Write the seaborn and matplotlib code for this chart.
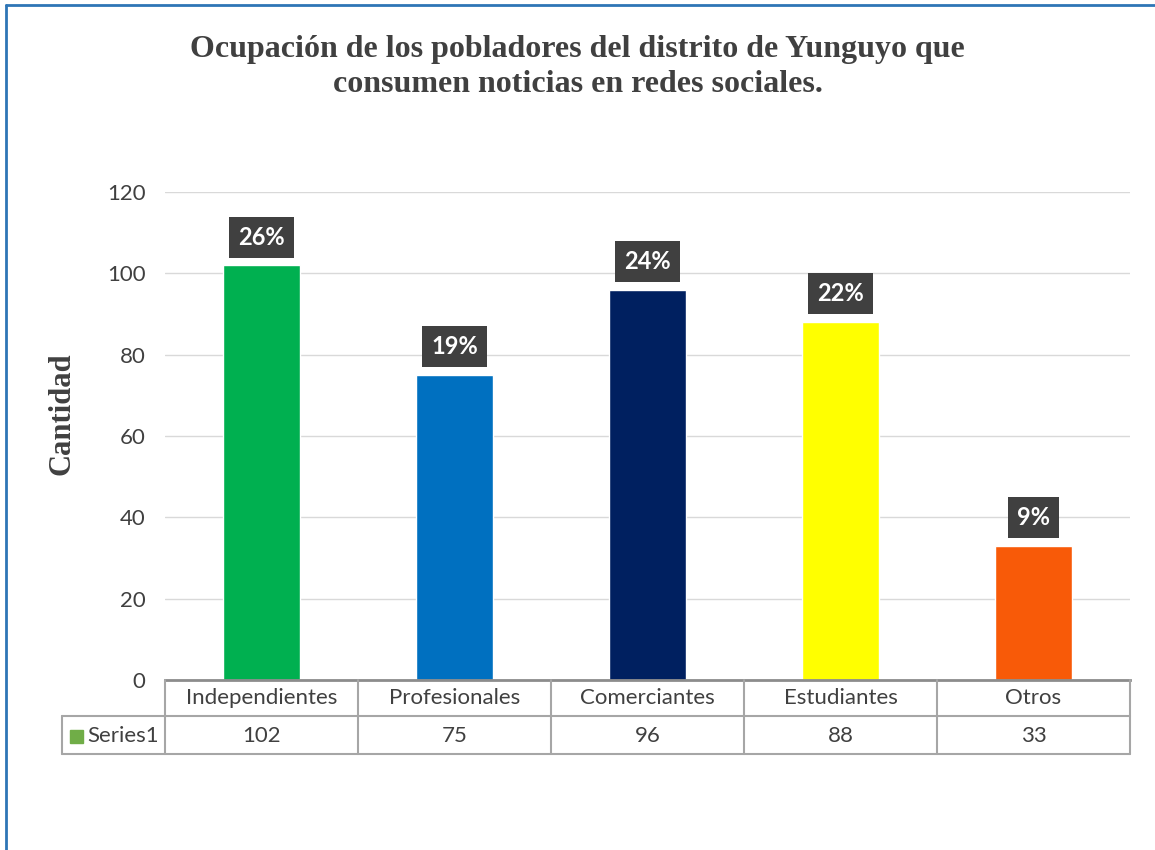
import matplotlib.pyplot as plt
import seaborn as sns
import pandas as pd
from matplotlib.lines import Line2D
from matplotlib.patches import Rectangle

# datos
categorias = ['Independientes', 'Profesionales', 'Comerciantes', 'Estudiantes', 'Otros']
cantidad = [102, 75, 96, 88, 33]
porcentajes = ['26%', '19%', '24%', '22%', '9%']
colores = ['#00B050', '#0070C0', '#002060', '#FFFF00', '#F85A08']
serie = 'Series1'

df = pd.DataFrame({'Ocupacion': categorias, 'Cantidad': cantidad})

sns.set_theme(style='white')
plt.rcParams['font.family'] = ['Lato', 'DejaVu Sans']

W, H = 1155, 850
def fx(x):
    return x / W
def fy(y):
    return 1 - y / H

fig = plt.figure(figsize=(11.55, 8.5), dpi=100)
ax = fig.add_axes([165 / W, 0.2, 965 / W, 488 / H])

sns.barplot(data=df, x='Ocupacion', y='Cantidad', hue='Ocupacion',
            palette=colores, width=0.4, legend=False, ax=ax, saturation=1)

ax.set_ylim(0, 120)
ax.set_yticks(range(0, 121, 20))
ax.tick_params(axis='y', labelsize=16, labelcolor='#404040', length=0, pad=14)
ax.set_xticks([])
ax.set_xlabel('')
ax.set_ylabel('')
ax.grid(axis='y', color='#D9D9D9', linewidth=1)
ax.set_axisbelow(True)
for s in ['top', 'right', 'left']:
    ax.spines[s].set_visible(False)
ax.spines['bottom'].set_color('#8C8C8C')
ax.spines['bottom'].set_linewidth(2)

fig.text(fx(62), fy(414), 'Cantidad', rotation=90, ha='center', va='center',
         family='Liberation Serif', fontweight='bold', fontsize=22, color='#404040')

# etiquetas de porcentaje
for i, p in enumerate(ax.patches):
    ax.annotate(porcentajes[i], (p.get_x() + p.get_width() / 2, p.get_height()),
                xytext=(0, 12), textcoords='offset points', ha='center', va='bottom',
                color='white', fontweight='bold', fontsize=17,
                bbox=dict(boxstyle='square,pad=0.38', fc='#404040', ec='none'))

# tabla de datos
gc = '#A6A6A6'
cols = [165 + 193 * k for k in range(6)]
for x in cols:
    fig.add_artist(Line2D([fx(x), fx(x)], [fy(680), fy(754)], color=gc, lw=1.5))
fig.add_artist(Line2D([fx(62), fx(62)], [fy(716), fy(754)], color=gc, lw=1.5))
fig.add_artist(Line2D([fx(62), fx(1130)], [fy(716), fy(716)], color=gc, lw=1.5))
fig.add_artist(Line2D([fx(62), fx(1130)], [fy(754), fy(754)], color=gc, lw=1.5))
for k, (c, v) in enumerate(zip(categorias, cantidad)):
    xc = fx((cols[k] + cols[k + 1]) / 2)
    fig.text(xc, fy(698), c, ha='center', va='center', fontsize=16, color='#404040')
    fig.text(xc, fy(736), str(v), ha='center', va='center', fontsize=16, color='#404040')
fig.add_artist(Rectangle((fx(70), fy(743)), 13 / W, 13 / H, color='#70AD47'))
fig.text(fx(87), fy(736), serie, ha='left', va='center', fontsize=16, color='#404040')

# titulo
fig.text(0.5, fy(67), 'Ocupación de los pobladores del distrito de Yunguyo que\nconsumen noticias en redes sociales.',
         ha='center', va='center', family='Liberation Serif', fontweight='bold',
         fontsize=23, color='#404040', linespacing=1.3)

# borde
fig.add_artist(Line2D([fx(6), fx(6)], [0, fy(5)], color='#2E75B6', lw=2))
fig.add_artist(Line2D([fx(6), 1], [fy(5), fy(5)], color='#2E75B6', lw=2))

fig.savefig('out.png', dpi=100)
